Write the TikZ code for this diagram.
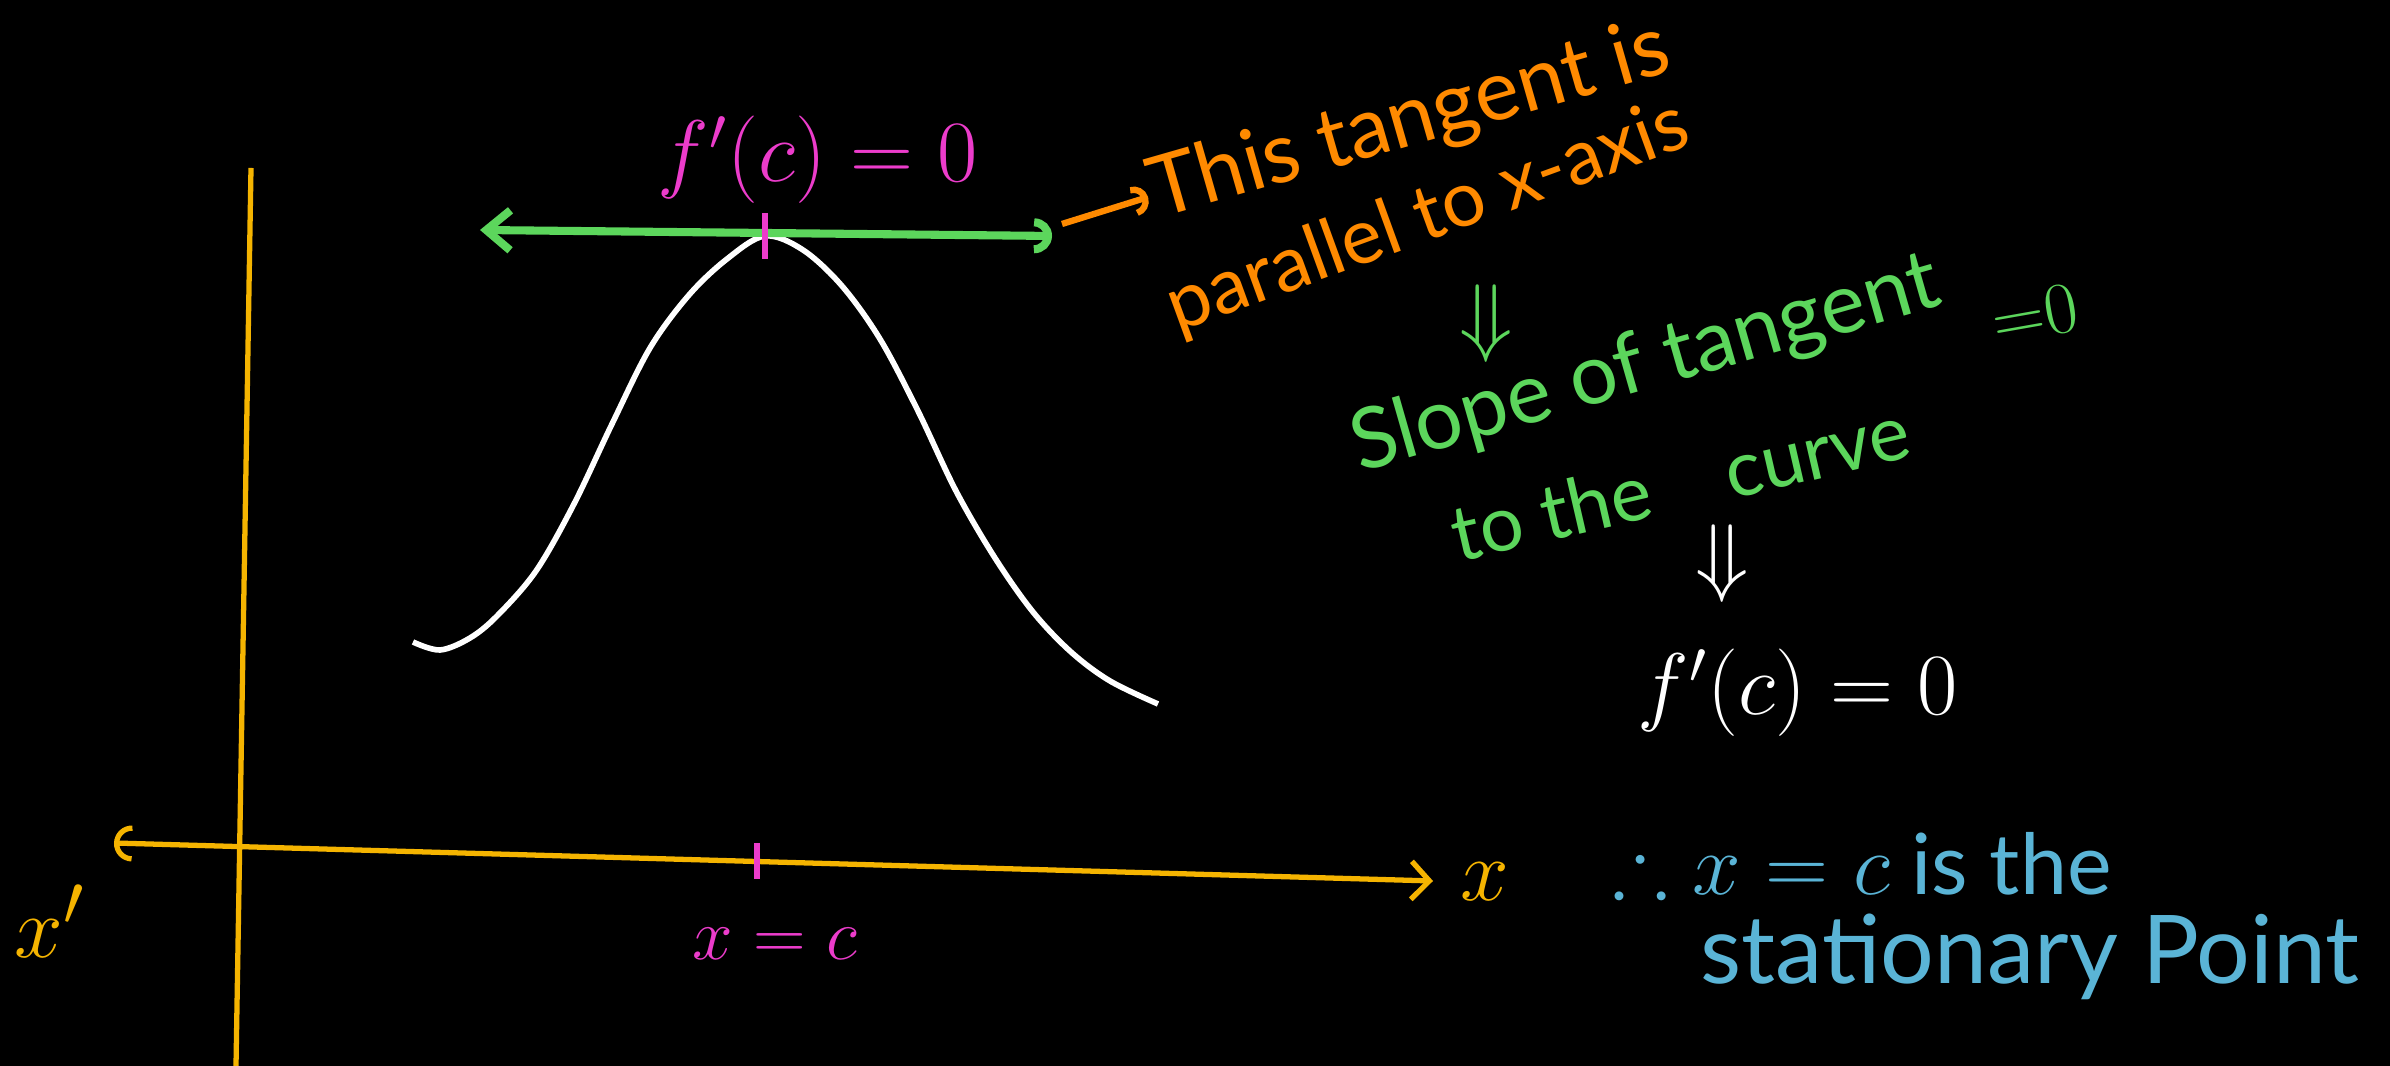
\documentclass[tikz,border=0pt]{standalone}
\usepackage{amsmath,amssymb}
\usepackage{fontspec}
\setmainfont{Lato}
\usepackage{xcolor}
\usepackage{tikz}
\usetikzlibrary{arrows.meta,positioning}
\definecolor{statyellow}{HTML}{F5B400}
\definecolor{statpink}{HTML}{EC3CCB}
\definecolor{statgreen}{HTML}{5CD65C}
\definecolor{statorange}{HTML}{FF8A00}
\definecolor{statblue}{HTML}{5AB4D6}

\begin{document}
\begin{tikzpicture}[
  axis/.style={line width=1.5pt,statyellow},
  tangent/.style={line width=2.3pt,statgreen},
  curvepen/.style={line width=1.6pt,white},
  tick/.style={line width=1.6pt,statpink},
  lab/.style={font=\fontsize{24}{28}\selectfont,inner sep=1pt}
]
\fill[black] (0,0) rectangle (23.9,10.66);
\useasboundingbox (0,0) rectangle (23.9,10.66);
\coordinate (ytop) at (2.51,8.98);
\coordinate (ybot) at (2.36,0);
\coordinate (xl) at (1.14,2.23);
\coordinate (xr) at (14.33,1.85);
\coordinate (xc0) at (7.57,2.06);
\coordinate (peak) at (7.65,8.30);
\coordinate (tl) at (4.80,8.36);
\coordinate (tr) at (10.52,8.30);
\coordinate (oa) at (10.62,8.42);
\draw[axis] (ytop)--(ybot);
\draw[axis,{Arc Barb[length=1.8mm,width=3.6mm]}-{Straight Barb[length=1.8mm,width=3.8mm]}] (xl)--(xr);
\draw[curvepen] plot[smooth,tension=0.55] coordinates {(4.13,4.24) (4.40,4.16) (4.70,4.28) (4.97,4.50) (5.36,4.95) (5.74,5.62) (6.12,6.42) (6.50,7.18) (6.89,7.71) (7.27,8.07) (7.65,8.30) (8.03,8.16) (8.42,7.80) (8.80,7.27) (9.18,6.55) (9.56,5.75) (9.95,5.08) (10.33,4.54) (10.71,4.14) (11.10,3.85) (11.58,3.62)};
\draw[tangent,{Straight Barb[length=2.4mm,width=4mm]}-{Arc Barb[length=1.8mm,width=3.5mm]}] (tl)--(tr);
\draw[tick] (peak) ++(0,0.23) -- ++(0,-0.46);
\draw[tick] (xc0) ++(0,0.17) -- ++(0,-0.36);
\node[lab,statpink] (fc) at (8.18,9.06) {$f'(c)=0$};
\node[lab,statpink,font=\fontsize{20}{24}\selectfont] (xc) at (7.75,1.22) {$x=c$};
\node[lab,statyellow,font=\fontsize{32}{36}\selectfont] (xp) at (0.50,1.45) {$x'$};
\node[lab,statyellow,font=\fontsize{32}{36}\selectfont] (xlab) at (14.85,1.84) {$x$};
\node[lab,statorange,rotate=16] (t1) at (14.10,9.44) {This tangent is};
\node[lab,statorange,rotate=20,font=\fontsize{22}{26}\selectfont] (t2) at (14.28,8.48) {parallel to x-axis};
\draw[statorange,line width=1.8pt,-{Arc Barb[length=1.5mm,width=3mm]}] (oa)--(t1.west);
\node[lab,statgreen] (d1) at (14.86,7.42) {$\Downarrow$};
\node[lab,statgreen,rotate=16] (s1) at (16.46,7.00) {Slope of tangent};
\node[lab,statgreen,rotate=10,font=\fontsize{21}{25}\selectfont] (eq0) at (20.35,7.52) {${=}0$};
\node[lab,statgreen,rotate=13,font=\fontsize{22}{26}\selectfont] (s2) at (16.80,5.84) {to the\quad curve};
\node[lab,white] (d2) at (17.22,5.02) {$\Downarrow$};
\node[lab,white,font=\fontsize{25}{30}\selectfont] (fc2) at (17.98,3.73) {$f'(c)=0$};
\node[lab,statblue] (b1) at (18.62,2.02) {$\therefore x=c$ is the};
\node[lab,statblue,font=\fontsize{27}{32}\selectfont] (b2) at (20.30,1.09) {stationary Point};
\end{tikzpicture}
\end{document}
